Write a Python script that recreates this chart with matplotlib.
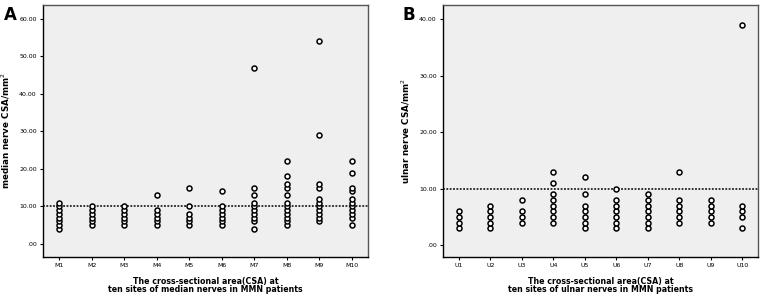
import matplotlib
matplotlib.use("Agg")
import matplotlib.pyplot as plt
import numpy as np

# Panel A: median nerve CSA (mm^2) at ten sites
median_sites = ["M1", "M2", "M3", "M4", "M5", "M6", "M7", "M8", "M9", "M10"]
median_csa = [
    [4, 5, 6, 7, 8, 9, 10, 11],
    [5, 6, 7, 8, 9, 10],
    [5, 6, 7, 8, 9, 10],
    [5, 6, 7, 8, 9, 13],
    [5, 6, 7, 8, 10, 15],
    [5, 6, 7, 8, 9, 10, 14],
    [4, 6, 7, 8, 9, 10, 11, 13, 15, 47],
    [5, 6, 7, 8, 9, 10, 11, 13, 15, 16, 18, 22],
    [6, 7, 8, 9, 10, 11, 12, 15, 16, 29, 54],
    [5, 7, 8, 9, 10, 11, 12, 14, 15, 19, 22],
]
median_yticks = [0, 10, 20, 30, 40, 50, 60]

# Panel B: ulnar nerve CSA (mm^2) at ten sites
ulnar_sites = ["U1", "U2", "U3", "U4", "U5", "U6", "U7", "U8", "U9", "U10"]
ulnar_csa = [
    [3, 4, 5, 6],
    [3, 4, 5, 6, 7],
    [4, 5, 6, 8],
    [4, 5, 6, 7, 8, 9, 11, 13],
    [3, 4, 5, 6, 7, 9, 12],
    [3, 4, 5, 6, 7, 8, 10],
    [3, 4, 5, 6, 7, 8, 9],
    [4, 5, 6, 7, 8, 13],
    [4, 5, 6, 7, 8],
    [3, 5, 6, 7, 39],
]
ulnar_yticks = [0, 10, 20, 30, 40]

cutoff = 10

plt.rcParams['font.family'] = ['DejaVu Sans']

fig = plt.figure(figsize=(7.65, 2.99), dpi=100)
ax_a = fig.add_axes([43 / 765, 42 / 299, 325 / 765, 252 / 299])
ax_b = fig.add_axes([443 / 765, 42 / 299, 315 / 765, 252 / 299])


def tick_fmt(v):
    return ".00" if v == 0 else f"{v:.2f}"


def draw_panel(ax, sites, values, yticks, ylim, ylabel, xlabel):
    ax.set_facecolor("#efefef")
    for i, vals in enumerate(values):
        x = np.full(len(vals), i + 1)
        ax.plot(x, vals, linestyle="none", marker="o", markersize=3.6,
                markerfacecolor="white", markeredgecolor="black",
                markeredgewidth=1.1, zorder=3)
    ax.axhline(cutoff, color="black", linestyle=(0, (1.2, 1.0)),
               linewidth=1.1, zorder=2)
    ax.set_xlim(0.5, 10.5)
    ax.set_ylim(*ylim)
    ax.set_xticks(np.arange(1, len(sites) + 1))
    ax.set_xticklabels(sites, fontsize=4.5)
    ax.set_yticks(yticks)
    ax.set_yticklabels([tick_fmt(v) for v in yticks], fontsize=4.5)
    ax.tick_params(axis="both", length=2.5, width=0.8, pad=2)
    for side in ["left", "bottom"]:
        ax.spines[side].set_linewidth(1.0)
        ax.spines[side].set_color("black")
    for side in ["top", "right"]:
        ax.spines[side].set_linewidth(1.0)
        ax.spines[side].set_color("#555555")
    ax.set_ylabel(ylabel, fontsize=6.3, fontweight="bold", labelpad=5)
    ax.set_xlabel(xlabel, fontsize=5.7, fontweight="bold", labelpad=6,
                  linespacing=0.95)


draw_panel(ax_a, median_sites, median_csa, median_yticks, (-3.5, 63.7),
           "median nerve CSA/mm$^2$",
           "The cross-sectional area(CSA) at\nten sites of median nerves in MMN patients")
draw_panel(ax_b, ulnar_sites, ulnar_csa, ulnar_yticks, (-2.1, 42.5),
           "ulnar nerve CSA/mm$^2$",
           "The cross-sectional area(CSA) at\nten sites of ulnar nerves in MMN patients")

fig.text(4 / 765, 1 - 20 / 299, "A", fontsize=12, fontweight="bold")
fig.text(403 / 765, 1 - 20 / 299, "B", fontsize=12, fontweight="bold")

fig.savefig("out.png", dpi=100)
